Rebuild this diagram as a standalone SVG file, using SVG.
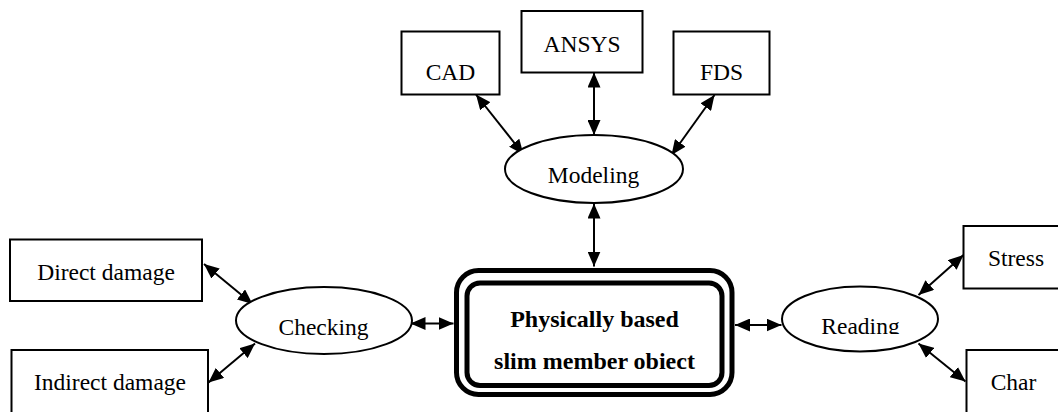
<svg xmlns="http://www.w3.org/2000/svg" width="1058" height="412" viewBox="0 0 1058 412">
  <defs>
    <marker id="head" viewBox="0 0 15 13" markerWidth="15" markerHeight="13" refX="15" refY="6.5" orient="auto-start-reverse" markerUnits="userSpaceOnUse">
      <path d="M0,0 L15,6.5 L0,13 z" fill="#000"/>
    </marker>
    <clipPath id="readingClip">
      <rect x="780" y="290" width="160" height="44"/>
    </clipPath>
  </defs>
  <style>
    .box { fill: #fff; stroke: #000; stroke-width: 2; }
    .oval { fill: #fff; stroke: #000; stroke-width: 2; }
    .frame { fill: none; stroke: #000; stroke-width: 5; }
    .label { font-family: "Liberation Serif", "Times New Roman", serif; font-size: 23.5px; fill: #000; text-anchor: middle; }
    .title { font-family: "Liberation Serif", "Times New Roman", serif; font-size: 24px; font-weight: bold; fill: #000; text-anchor: middle; }
    .link { stroke: #000; stroke-width: 2; fill: none; marker-start: url(#head); marker-end: url(#head); }
  </style>
  <rect width="1058" height="412" fill="#fff"/>

  <!-- connectors -->
  <g id="connectors">
    <line class="link" x1="476" y1="94.5" x2="523.5" y2="154.5"/>
    <line class="link" x1="594" y1="72.5" x2="594" y2="135"/>
    <line class="link" x1="714.5" y1="95" x2="671.5" y2="155"/>
    <line class="link" x1="594" y1="203.5" x2="594" y2="266.5"/>
    <line class="link" x1="204" y1="264" x2="252.5" y2="304"/>
    <line class="link" x1="208.5" y1="382.5" x2="255" y2="343.5"/>
    <line class="link" x1="410.5" y1="323.5" x2="453.5" y2="323.5"/>
    <line class="link" x1="735" y1="325" x2="781.5" y2="325"/>
    <line class="link" x1="918.5" y1="295" x2="963.5" y2="255"/>
    <line class="link" x1="918.5" y1="343.5" x2="965.5" y2="381.5"/>
  </g>

  <!-- tool nodes -->
  <g id="cad">
    <rect class="box" x="401.5" y="31.5" width="98" height="63"/>
    <text class="label" x="450.5" y="80">CAD</text>
  </g>
  <g id="ansys">
    <rect class="box" x="521.5" y="11" width="121" height="61.5"/>
    <text class="label" x="582" y="51.5">ANSYS</text>
  </g>
  <g id="fds">
    <rect class="box" x="673.5" y="31.5" width="96" height="63"/>
    <text class="label" x="721.5" y="80">FDS</text>
  </g>

  <g id="modeling">
    <ellipse class="oval" cx="594" cy="169" rx="89" ry="34"/>
    <text class="label" x="593.5" y="183">Modeling</text>
  </g>

  <!-- checking branch -->
  <g id="direct-damage">
    <rect class="box" x="10" y="239.5" width="192" height="61.5"/>
    <text class="label" x="106" y="279.5">Direct damage</text>
  </g>
  <g id="indirect-damage">
    <rect class="box" x="11.5" y="350" width="196.5" height="64"/>
    <text class="label" x="110" y="390">Indirect damage</text>
  </g>
  <g id="checking">
    <ellipse class="oval" cx="324" cy="320.5" rx="88" ry="33.5"/>
    <text class="label" x="323.5" y="335">Checking</text>
  </g>

  <!-- central object -->
  <g id="slim-member">
    <rect class="frame" x="456.5" y="270.5" width="275.5" height="124" rx="22" ry="22"/>
    <rect class="frame" x="467" y="283" width="255" height="102.5" rx="13" ry="13"/>
    <text class="title" x="594.5" y="326.5">Physically based</text>
    <text class="title" x="594.5" y="369">slim member obiect</text>
  </g>

  <!-- reading branch: label clipped at its baseline -->
  <g id="reading">
    <ellipse class="oval" cx="860" cy="319" rx="78" ry="32.5"/>
    <text class="label" x="860.5" y="333.5" clip-path="url(#readingClip)">Reading</text>
  </g>
  <g id="stress">
    <rect class="box" x="963.5" y="226" width="110" height="62.5"/>
    <text class="label" x="1016" y="266">Stress</text>
  </g>
  <g id="char">
    <rect class="box" x="966.5" y="350" width="110" height="64"/>
    <text class="label" x="1013.5" y="389.5">Char</text>
  </g>
</svg>
